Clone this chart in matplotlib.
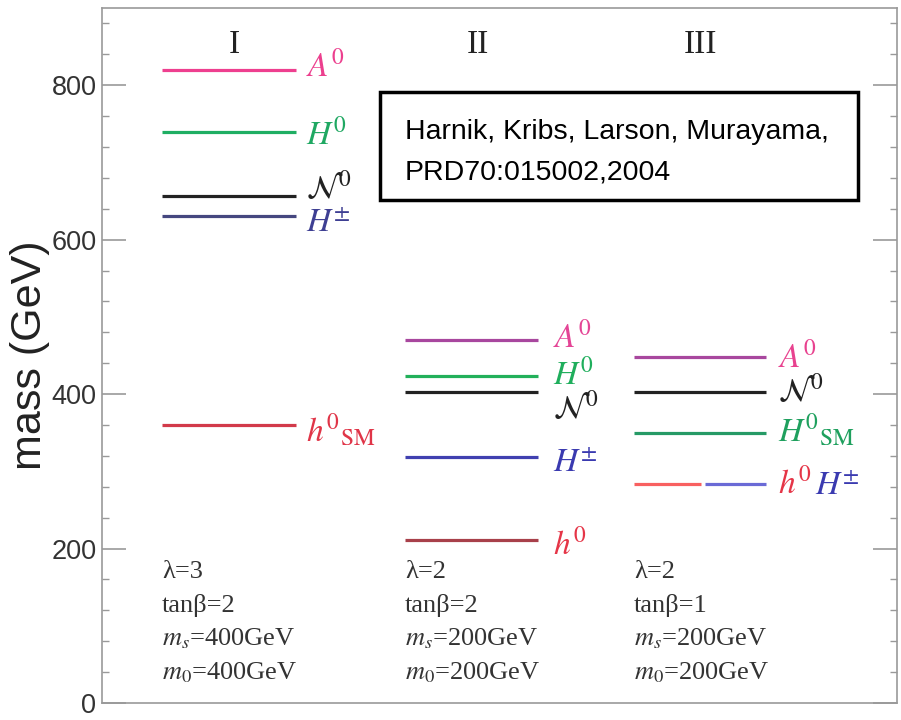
import matplotlib
matplotlib.use("Agg")
import matplotlib.pyplot as plt
from matplotlib.patches import Rectangle
from matplotlib.ticker import MultipleLocator

plt.rcParams["mathtext.fontset"] = "stix"

# masses (GeV) per scenario
scenarios = ["I", "II", "III"]
mass_I = {"A0": 820, "H0": 740, "N0": 657, "Hpm": 630, "h0": 360}
mass_II = {"A0": 470, "H0": 423, "N0": 403, "Hpm": 318, "h0": 211}
mass_III = {"A0": 448, "N0": 403, "H0": 350, "h0": 283, "Hpm": 283}

params_I = ["λ=3", "tanβ=2", r"$m_s$=400GeV", r"$m_0$=400GeV"]
params_II = ["λ=2", "tanβ=2", r"$m_s$=200GeV", r"$m_0$=200GeV"]
params_III = ["λ=2", "tanβ=1", r"$m_s$=200GeV", r"$m_0$=200GeV"]

ref_text = "Harnik, Kribs, Larson, Murayama,\nPRD70:015002,2004"

fig = plt.figure(figsize=(9.01, 7.2), dpi=100)
ax = fig.add_axes([0.1132, 0.0236, 0.8824, 0.9653])
ax.set_xlim(0, 8)
ax.set_ylim(0, 900)

lw = 2.3
fs = 24  # particle labels

def level(x0, x1, m, color):
    ax.plot([x0, x1], [m, m], color=color, lw=lw, solid_capstyle="butt")

def lab(x, y, s, color):
    ax.text(x, y, s, color=color, fontsize=fs, va="baseline", ha="left")

# scenario I
x0, x1, xl = 0.604, 1.952, 2.05
level(x0, x1, mass_I["A0"], "#ee3f8f")
level(x0, x1, mass_I["H0"], "#1fae63")
level(x0, x1, mass_I["N0"], "#222222")
level(x0, x1, mass_I["Hpm"], "#45477f")
level(x0, x1, mass_I["h0"], "#d23a4a")
lab(xl, mass_I["A0"] - 9, r"$A^0$", "#ec3f8e")
lab(xl, mass_I["H0"] - 16, r"$H^0$", "#1fa862")
lab(xl, mass_I["N0"] - 4, r"$\mathcal{N}^0$", "#222222")
lab(xl, mass_I["Hpm"] - 19, r"$H^{\pm}$", "#3e3f93")
lab(xl, mass_I["h0"] - 22, r"$h^{0}{}_{\rm SM}$", "#e03548")

# scenario II
x0, x1, xl = 3.049, 4.387, 4.54
level(x0, x1, mass_II["A0"], "#a8479e")
level(x0, x1, mass_II["H0"], "#22b05a")
level(x0, x1, mass_II["N0"], "#222222")
level(x0, x1, mass_II["Hpm"], "#4040b0")
level(x0, x1, mass_II["h0"], "#a8404a")
lab(xl, mass_II["A0"] - 10, r"$A^0$", "#e44596")
lab(xl, mass_II["H0"] - 10, r"$H^0$", "#1fae5c")
lab(xl, mass_II["N0"] - 34, r"$\mathcal{N}^0$", "#222222")
lab(xl, mass_II["Hpm"] - 18, r"$H^{\pm}$", "#3a3ab0")
lab(xl, mass_II["h0"] - 18, r"$h^0$", "#e53547")

# scenario III
x0, x1, xl = 5.353, 6.682, 6.80
level(x0, x1, mass_III["A0"], "#a8479e")
level(x0, x1, mass_III["N0"], "#222222")
level(x0, x1, mass_III["H0"], "#269a66")
level(x0, 6.028, mass_III["h0"], "#f86060")
level(6.068, x1, mass_III["Hpm"], "#6a6ad6")
lab(xl, mass_III["A0"] - 13, r"$A^0$", "#e8428f")
lab(xl, mass_III["N0"] - 13, r"$\mathcal{N}^0$", "#222222")
lab(xl, mass_III["H0"] - 12, r"$H^{0}{}_{\rm SM}$", "#1fa05e")
lab(xl, mass_III["h0"] - 12, r"$h^0$", "#e53547")
lab(7.17, mass_III["Hpm"] - 12, r"$H^{\pm}$", "#3a3ab0")

# column headers
for xc, s in zip([1.33, 3.78, 6.02], scenarios):
    ax.text(xc, 853, s, fontsize=24, family="Liberation Serif",
            ha="center", va="center", color="#222222")

# parameter blocks
for xp, params in zip([0.604, 3.049, 5.353], [params_I, params_II, params_III]):
    for i, s in enumerate(params):
        ax.text(xp, 162 - 44 * i, s, fontsize=19, family="Liberation Serif",
                ha="left", va="baseline", color="#333333")

# reference box
ax.add_patch(Rectangle((2.797, 651), 7.608 - 2.797, 140, fill=False,
                       lw=2.5, edgecolor="black", zorder=3))
lines = ref_text.split("\n")
ax.text(3.05, 730, lines[0], fontsize=20.5, family="Liberation Sans",
        va="baseline", ha="left", color="black")
ax.text(3.05, 678, lines[1], fontsize=20.5, family="Liberation Sans",
        va="baseline", ha="left", color="black")

# axes styling
for sp in ax.spines.values():
    sp.set_color("#999999")
    sp.set_linewidth(1.2)
ax.set_xticks([])
ax.yaxis.set_major_locator(MultipleLocator(200))
ax.yaxis.set_minor_locator(MultipleLocator(40))
ax.tick_params(axis="y", which="major", direction="in", length=17, width=1.2,
               color="#999999", right=True, labelsize=19.5, labelcolor="#333333", pad=4)
ax.tick_params(axis="y", which="minor", direction="in", length=5, width=1.0,
               color="#999999", right=True)
for t in ax.get_yticklabels():
    t.set_family("Liberation Sans")
ax.set_ylabel("mass (GeV)", fontsize=31, family="Liberation Sans", color="#222222",
              labelpad=1)

fig.savefig("out.png", dpi=100)
